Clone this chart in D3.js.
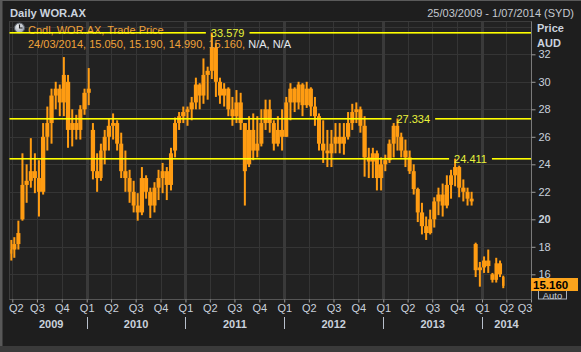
<!DOCTYPE html>
<html><head><meta charset="utf-8">
<script src="https://cdn.jsdelivr.net/npm/d3@7/dist/d3.min.js"></script>
<style>
html,body{margin:0;padding:0;background:#1e1e1e;}
svg{display:block;font-family:"Liberation Sans",Arial,sans-serif;}
</style></head><body>
<svg id="c" width="581" height="352"></svg>
<script>
// ---- data (semi-monthly OHLC) ----
const periodStart = [
"2009-03-25","2009-04-01","2009-04-16","2009-05-01","2009-05-16","2009-06-01","2009-06-16","2009-07-01","2009-07-16","2009-08-01","2009-08-16","2009-09-01","2009-09-16","2009-10-01","2009-10-16","2009-11-01","2009-11-16","2009-12-01","2009-12-16",
"2010-01-01","2010-01-16","2010-02-01","2010-02-16","2010-03-01","2010-03-16","2010-04-01","2010-04-16","2010-05-01","2010-05-16","2010-06-01","2010-06-16","2010-07-01","2010-07-16","2010-08-01","2010-08-16","2010-09-01","2010-09-16","2010-10-01","2010-10-16","2010-11-01","2010-11-16","2010-12-01","2010-12-16",
"2011-01-01","2011-01-16","2011-02-01","2011-02-16","2011-03-01","2011-03-16","2011-04-01","2011-04-16","2011-05-01","2011-05-16","2011-06-01","2011-06-16","2011-07-01","2011-07-16","2011-08-01","2011-08-16","2011-09-01","2011-09-16","2011-10-01","2011-10-16","2011-11-01","2011-11-16","2011-12-01","2011-12-16",
"2012-01-01","2012-01-16","2012-02-01","2012-02-16","2012-03-01","2012-03-16","2012-04-01","2012-04-16","2012-05-01","2012-05-16","2012-06-01","2012-06-16","2012-07-01","2012-07-16","2012-08-01","2012-08-16","2012-09-01","2012-09-16","2012-10-01","2012-10-16","2012-11-01","2012-11-16","2012-12-01","2012-12-16",
"2013-01-01","2013-01-16","2013-02-01","2013-02-16","2013-03-01","2013-03-16","2013-04-01","2013-04-16","2013-05-01","2013-05-16","2013-06-01","2013-06-16","2013-07-01","2013-07-16","2013-08-01","2013-08-16","2013-09-01","2013-09-16","2013-10-01","2013-10-16","2013-11-01","2013-11-16","2013-12-01","2013-12-16",
"2014-01-01","2014-01-16","2014-02-01","2014-02-16","2014-03-01","2014-03-16"];
const lastDataDate = "2014-03-25";
const openP = [
17.5,17.8,18.2,20.0,22.5,22.8,23.5,23.0,22.0,26.0,27.0,29.0,29.5,28.5,30.0,26.5,27.0,26.5,28.0,
29.2,26.5,23.5,23.0,25.0,26.0,26.8,27.0,25.5,23.5,23.0,22.0,21.0,20.5,23.0,22.0,21.0,22.3,23.0,23.5,22.5,25.0,27.0,27.5,
27.8,28.0,28.5,29.8,29.0,30.5,30.8,32.5,30.0,29.0,29.5,28.0,27.5,28.5,27.0,24.0,26.5,25.0,25.5,27.0,28.0,27.0,25.5,26.5,
26.0,28.5,29.5,28.5,29.8,28.3,29.5,28.2,27.5,25.5,25.0,24.8,25.5,26.0,25.5,26.0,27.0,27.8,28.0,26.8,24.5,24.2,24.8,23.0,
24.0,24.3,25.5,26.8,26.0,25.0,24.5,23.5,22.2,20.5,19.5,19.0,20.0,21.3,21.8,21.0,22.5,23.2,23.8,22.3,22.0,21.5,18.2,16.3,
16.5,17.0,16.0,15.6,16.8,15.8];
const highP = [
18.5,18.7,19.9,24.8,24.0,25.9,24.8,24.3,27.0,28.2,29.5,30.0,29.8,31.8,30.5,28.0,27.6,28.3,29.5,
31.0,27.0,24.8,25.5,26.5,27.3,27.7,27.2,26.3,25.0,23.6,22.8,21.9,23.8,23.2,22.3,22.7,23.6,24.1,23.8,25.2,27.4,27.8,28.2,
28.2,28.9,30.3,29.9,31.7,31.1,33.579,32.8,30.3,29.9,29.6,28.9,29.4,29.2,27.0,27.5,27.7,27.5,28.0,28.7,28.7,27.2,27.5,28.0,
28.9,29.9,29.6,30.0,29.9,30.0,29.6,28.9,27.7,27.2,26.5,26.5,27.0,27.0,27.0,27.8,28.4,28.5,28.2,27.5,25.2,25.2,25.0,24.5,
24.7,25.8,27.0,27.334,26.3,25.8,25.0,24.0,22.3,21.2,20.2,20.7,21.6,22.3,22.6,23.2,23.6,24.411,23.9,22.9,22.3,22.0,18.3,16.9,
17.3,17.8,16.1,17.2,17.0,15.9];
const lowP = [
17.0,17.2,17.8,19.9,21.2,22.3,21.9,20.2,21.8,25.0,25.5,28.0,27.5,27.5,25.2,25.3,25.8,25.8,27.6,
28.3,22.9,22.0,22.8,24.0,25.0,25.8,25.0,23.0,22.0,21.2,20.5,19.9,20.3,21.5,20.1,20.5,21.4,21.9,21.4,22.1,24.5,26.5,27.0,
26.8,27.2,28.0,28.0,28.4,28.7,30.2,28.9,28.4,28.2,27.5,26.8,27.0,26.5,21.0,23.8,24.3,24.5,25.3,26.5,26.3,25.0,25.3,25.0,
26.0,27.2,27.8,28.0,27.5,28.1,27.5,26.8,25.0,24.1,23.8,23.8,24.8,24.8,24.7,25.8,26.5,27.0,26.3,23.1,23.0,23.0,22.1,22.1,
23.5,24.1,24.5,25.0,24.5,23.8,23.3,21.8,19.8,18.9,18.5,18.9,19.4,20.3,20.2,20.8,21.5,22.4,21.6,21.3,21.0,21.0,15.8,15.1,
16.1,16.1,15.4,15.4,15.8,14.99];
const closeP = [
17.8,18.2,19.0,22.5,22.8,23.5,23.0,22.0,26.0,27.0,29.0,29.5,28.5,30.5,26.5,27.0,26.5,28.0,29.2,
29.5,23.5,23.0,25.0,26.0,26.8,27.0,25.5,23.5,23.0,22.0,21.0,20.5,23.0,22.0,21.0,22.3,23.0,23.5,22.5,24.8,27.0,27.5,27.8,
28.0,28.5,29.8,29.0,30.5,30.8,32.5,30.0,29.0,29.5,28.0,27.5,28.5,27.0,23.5,26.5,25.0,25.5,27.0,28.0,27.0,25.5,26.5,26.0,
28.5,29.5,28.5,29.8,28.3,29.5,28.2,27.5,25.5,25.0,24.8,25.5,26.0,25.5,26.0,27.0,27.8,28.0,26.8,24.5,24.2,24.8,23.0,24.0,
24.3,25.5,26.8,26.0,25.0,24.5,23.5,22.2,20.5,19.5,19.0,20.0,21.3,21.8,21.0,22.5,23.2,23.8,22.3,22.0,21.5,21.3,16.3,16.5,
17.0,16.6,15.6,16.8,16.0,15.16];
const refLevels = [33.579, 27.334, 24.411];
const yTickValues = [16,18,20,22,24,26,28,30,32];
const gridLevels = [16,18,20,22,24,26,28,30,32,34];
const quarterNames = ["Q1","Q2","Q3","Q4"];
const yearLabels = [2009,2010,2011,2012,2013,2014];
const lastPriceText = "15.160";
const legendTitle = "Cndl, WOR.AX, Trade Price";
const legendValues = "24/03/2014, 15.050, 15.190, 14.990, 15.160,";
const legendNA = " N/A, N/A";

// ---- drawing ----
const W = 581, H = 352;
const L = 9.5, R = 531, T = 21.5, B = 299.5;
const ORANGE = "#ff9c12";
const parse = d3.timeParse("%Y-%m-%d");
const dates = periodStart.map(parse);
const endDate = parse(lastDataDate);
const x = d3.scaleTime().domain([new Date(2009,2,25), new Date(2014,6,1)]).range([10.4, 531]);
const y = d3.scaleLinear().domain([16, 34]).range([274.3, 26.8]);

const svg = d3.select("#c");
svg.append("rect").attr("width", W).attr("height", H).attr("fill", "#1e1e1e");
svg.append("rect").attr("x",0).attr("y",0).attr("width",2.5).attr("height",H).attr("fill","#585858");
svg.append("rect").attr("x",0).attr("y",0).attr("width",W).attr("height",1).attr("fill","#5a5a5a");
svg.append("rect").attr("x",0).attr("y",346).attr("width",W).attr("height",6).attr("fill","#3a3a3a");

// plot bg
svg.append("rect").attr("x",L).attr("y",T).attr("width",R-L).attr("height",B-T).attr("fill","#222222");

const quarters = d3.timeMonths(new Date(2009,3,1), new Date(2014,6,2), 3);
const gGrid = svg.append("g").attr("shape-rendering","crispEdges");
gGrid.selectAll("line.h").data(gridLevels).join("line")
  .attr("x1", L).attr("x2", R).attr("y1", d => Math.round(y(d))+0.5).attr("y2", d => Math.round(y(d))+0.5)
  .attr("stroke", "#353535").attr("stroke-width", 1);
gGrid.selectAll("line.v").data(quarters).join("line")
  .attr("x1", d => Math.round(x(d))+0.5).attr("x2", d => Math.round(x(d))+0.5).attr("y1", T).attr("y2", B)
  .attr("stroke", d => d.getMonth() === 0 ? "#3a3a3a" : "#353535")
  .attr("stroke-width", d => d.getMonth() === 0 ? 3 : 1);
svg.append("rect").attr("x",L).attr("y",T).attr("width",R-L).attr("height",B-T)
  .attr("fill","none").attr("stroke","#3c3c3c").attr("shape-rendering","crispEdges");

// candles
const gC = svg.append("g");
dates.forEach((d, i) => {
  const x0 = x(d), x1 = x(i < dates.length-1 ? dates[i+1] : endDate);
  const cx = (x0 + x1) / 2;
  gC.append("rect").attr("x", cx - 1).attr("width", 2)
    .attr("y", y(highP[i])).attr("height", y(lowP[i]) - y(highP[i]))
    .attr("fill", ORANGE);
  const top = y(Math.max(openP[i], closeP[i])), bot = y(Math.min(openP[i], closeP[i]));
  gC.append("rect").attr("x", x0).attr("width", Math.max(1, x1 - x0))
    .attr("y", top).attr("height", Math.max(1, bot - top)).attr("fill", ORANGE);
});

// y axis
svg.append("line").attr("x1", R+0.5).attr("x2", R+0.5).attr("y1", T).attr("y2", B).attr("stroke", "#7a7a7a");
const yAxis = svg.append("g").attr("transform", `translate(${R+0.5},0)`)
  .call(d3.axisRight(y).tickValues(yTickValues).tickSize(4).tickPadding(3).tickFormat(d3.format("d")));
yAxis.select(".domain").remove();
yAxis.selectAll("line").attr("stroke", "#9a9a9a");
yAxis.selectAll("text").attr("fill", "#c9d1dc").attr("font-size", 11)
  .attr("font-family", "Liberation Sans, Arial, sans-serif")
  .attr("font-weight", d => d === 20 ? "bold" : "normal");

// x axis
svg.append("line").attr("x1", L).attr("x2", R).attr("y1", B).attr("y2", B).attr("stroke", "#555");
const xAxis = svg.append("g").attr("transform", `translate(0,${B})`)
  .call(d3.axisBottom(x).tickValues(quarters).tickSize(3).tickPadding(2)
    .tickFormat(d => quarterNames[Math.floor(d.getMonth()/3)]));
xAxis.select(".domain").remove();
xAxis.selectAll("line").attr("stroke", "#9a9a9a");
xAxis.selectAll("text").attr("fill", "#c9d1dc").attr("font-size", 11)
  .attr("font-family", "Liberation Sans, Arial, sans-serif");
xAxis.selectAll(".tick").each(function(d) {
  const t = d3.select(this).select("text");
  const w = t.node().getComputedTextLength();
  const px = x(d);
  let dx = 0;
  if (px - w/2 < L - 1) dx = (L - 1) - (px - w/2);
  if (px + w/2 > R + 1) dx = (R + 1) - (px + w/2);
  t.attr("dx", dx);
});

// year separators and labels
const yearBounds = yearLabels.slice(1).map(yv => new Date(yv, 0, 1));
svg.selectAll("line.ysep").data(yearBounds).join("line")
  .attr("x1", d => Math.round(x(d))+0.5).attr("x2", d => Math.round(x(d))+0.5)
  .attr("y1", 317).attr("y2", 329).attr("stroke", "#b8c0cc");
yearLabels.forEach((yv, i) => {
  const s = i === 0 ? x(quarters[0]) + 3.5 : x(new Date(yv,0,1));
  const e = Math.min(R, x(new Date(yv+1,0,1)));
  svg.append("text").attr("x", (s+e)/2).attr("y", 328).attr("text-anchor","middle")
    .attr("fill", "#c9d1dc").attr("font-size", 11).attr("font-weight","bold").text(yv);
});

// header
svg.append("text").attr("x", 10).attr("y", 17).attr("fill", "#cbd3de").attr("font-size", 11.2)
  .attr("font-weight", "bold").text("Daily WOR.AX");
svg.append("text").attr("x", 574).attr("y", 17).attr("text-anchor","end").attr("fill", "#c4c9d0")
  .attr("font-size", 11).text("25/03/2009 - 1/07/2014 (SYD)");
svg.append("text").attr("x", 537).attr("y", 32).attr("fill", "#cbd3de").attr("font-size", 11)
  .attr("font-weight","bold").text("Price");
svg.append("text").attr("x", 537).attr("y", 47).attr("fill", "#cbd3de").attr("font-size", 11)
  .attr("font-weight","bold").text("AUD");

// legend
const defs = svg.append("defs");
const rg = defs.append("radialGradient").attr("id","clk").attr("cx","40%").attr("cy","35%").attr("r","70%");
rg.append("stop").attr("offset","0%").attr("stop-color","#f4f6f8");
rg.append("stop").attr("offset","100%").attr("stop-color","#8f98a4");
svg.append("circle").attr("cx", 19.5).attr("cy", 28).attr("r", 5).attr("fill","url(#clk)").attr("stroke","#5a6068");
svg.append("path").attr("d","M19.5,24.5 L19.5,28 L22.5,28").attr("stroke","#222").attr("stroke-width",1.2).attr("fill","none");
svg.append("text").attr("x", 28).attr("y", 34).attr("fill", "#f0a33a").attr("font-size", 11).text(legendTitle);
const lg2 = svg.append("text").attr("x", 28).attr("y", 48).attr("font-size", 11);
lg2.append("tspan").attr("fill", "#f0a33a").text(legendValues);
lg2.append("tspan").attr("fill", "#e4e8ee").text(legendNA);

// reference lines (drawn over legend, as in the original)
const gRef = svg.append("g");
refLevels.forEach(lv => {
  const i = highP.indexOf(lv);
  const x0 = x(dates[i]), x1 = x(i < dates.length-1 ? dates[i+1] : endDate);
  const lx = (x0 + x1)/2 - 1;
  const yy = 2 * Math.floor(y(lv) / 2);
  const t = gRef.append("text").attr("x", lx).attr("y", yy + 5).attr("fill", "#e8f23c")
    .attr("font-size", 11).text(lv.toFixed(3));
  const w = t.node().getComputedTextLength();
  gRef.append("rect").attr("x", L).attr("width", lx - 5 - L).attr("y", yy).attr("height", 1.6)
    .attr("fill", "#ffff00");
  gRef.append("rect").attr("x", lx + w + 5).attr("width", R - (lx + w + 5)).attr("y", yy).attr("height", 1.6)
    .attr("fill", "#ffff00");
});

// last price box + Auto
svg.append("rect").attr("x", 538.5).attr("y", 289.5).attr("width", 28).attr("height", 9.5)
  .attr("fill", "#1e1e1e").attr("stroke", "#a8b0bc");
svg.append("text").attr("x", 552.5).attr("y", 298.5).attr("text-anchor","middle").attr("fill","#c9d1dc")
  .attr("font-size", 9.5).text("Auto");
svg.append("rect").attr("x", 531).attr("y", 278).attr("width", 47).attr("height", 13).attr("fill", "#fca41c");
svg.append("text").attr("x", 533).attr("y", 289).attr("fill", "#000").attr("font-size", 11.5)
  .attr("font-weight","bold").text(lastPriceText);
</script>
</body></html>
